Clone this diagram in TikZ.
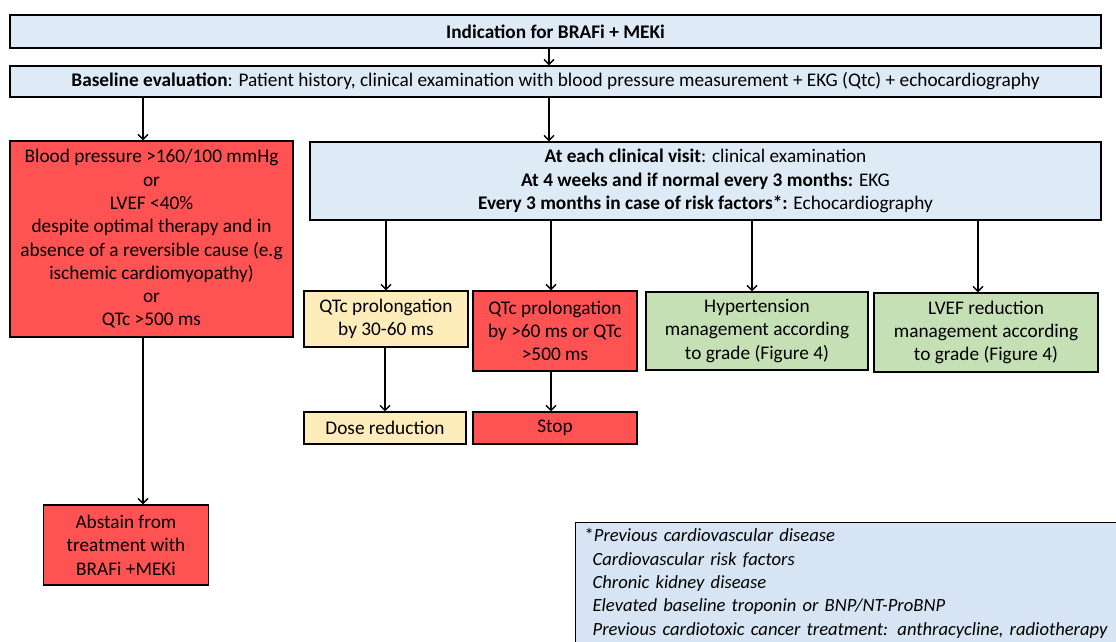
\documentclass[tikz,border=0pt]{standalone}
\usepackage{fontspec}
\setmainfont{Carlito}
\usepackage{xcolor}
\usetikzlibrary{arrows.meta,positioning}
\definecolor{paleblue}{RGB}{222,235,247}
\definecolor{noteblue}{RGB}{214,228,243}
\definecolor{alarmred}{RGB}{255,83,83}
\definecolor{paleyellow}{RGB}{255,236,187}
\definecolor{palegreen}{RGB}{197,224,180}

\begin{document}
\begin{tikzpicture}[
				x = 1pt, y = -1pt, % pixel grid, y downwards
				> = {Straight Barb[length=5pt,width=10pt]}, % arrow head style
				line width = 1.4pt,
				font = \fontsize{19.3}{23.3}\selectfont
			]
			
			\tikzstyle{box}=[
			draw = black,
			line width = 1.3pt,
			align = center,
			inner sep = 2pt
			]
			\tikzstyle{blue box}=[box, fill = paleblue]
			\tikzstyle{red box}=[box, fill = alarmred]
			\tikzstyle{yellow box}=[box, fill = paleyellow]
			\tikzstyle{green box}=[box, fill = palegreen]
			
			\useasboundingbox (0,0) rectangle (1116,642);
			
			\node[blue box, minimum width = 1091pt, minimum height = 33pt] (ind) at (555.5,31.5) {\textbf{Indication for BRAFi + MEKi}};
			\node[blue box, minimum width = 1091pt, minimum height = 31pt] (base) at (555.5,81.5) {\textbf{Baseline evaluation}: Patient history, clinical examination with blood pressure measurement + EKG (Qtc) + echocardiography};
			
			\node[red box, minimum width = 283pt, minimum height = 196pt] (crit) at (151.5,239) {Blood pressure >160/100 mmHg\\ or\\ LVEF <40\%\\ despite optimal therapy and in\\ absence of a reversible cause (e.g\\ ischemic cardiomyopathy)\\ or\\ QTc >500 ms};
			\node[blue box, minimum width = 791pt, minimum height = 78pt] (visit) at (705.5,181) {\textbf{At each clinical visit}: clinical examination\\ \textbf{At 4 weeks and if normal every 3 months:} EKG\\ \textbf{Every 3 months in case of risk factors*:} Echocardiography};
			
			\node[yellow box, minimum width = 164pt, minimum height = 56pt] (qt1) at (386,319) {QTc prolongation\\ by 30-60 ms};
			\node[red box, minimum width = 164pt, minimum height = 80pt] (qt2) at (555,331) {QTc prolongation\\ by >60 ms or QTc\\ >500 ms};
			\node[green box, minimum width = 222pt, minimum height = 78pt] (htn) at (757,331) {Hypertension\\ management according\\ to grade (Figure 4)};
			\node[green box, minimum width = 224pt, minimum height = 79pt] (lvef) at (986,332.5) {LVEF reduction\\ management according\\ to grade (Figure 4)};
			
			\node[yellow box, minimum width = 162pt, minimum height = 32pt] (dose) at (385,428) {Dose reduction};
			\node[red box, minimum width = 164pt, minimum height = 32pt] (stop) at (555,428) {Stop};
			
			\node[red box, minimum width = 165pt, minimum height = 80pt] (abst) at (126,545) {Abstain from\\ treatment with\\ BRAFi +MEKi};
			
			\node[box, fill = noteblue, anchor = north west, align = left, inner xsep = 9pt, inner ysep = 6pt, text width = 560pt, font = \fontsize{18.6}{23.3}\selectfont] (note) at (575,522) {*\textit{Previous cardiovascular disease}\\
				\hspace*{8pt}\textit{Cardiovascular risk factors}\\
				\hspace*{8pt}\textit{Chronic kidney disease}\\
				\hspace*{8pt}\textit{Elevated baseline troponin or BNP/NT-ProBNP}\\
				\hspace*{8pt}\textit{Previous cardiotoxic cancer treatment: anthracycline, radiotherapy}};
			
			% arrow columns
			\coordinate (lcol) at (143,0);
			\coordinate (mcol) at (549,0);
			
			\draw[->] (ind.south -| mcol) -- (base.north -| mcol);
			\draw[->] (base.south -| lcol) -- (crit.north -| lcol);
			\draw[->] (base.south -| mcol) -- (visit.north -| mcol);
			\draw[->] (crit.south -| lcol) -- (abst.north -| lcol);
			
			\draw[->] (visit.south -| qt1.north) -- (qt1.north);
			\draw[->] ([xshift=-4pt]visit.south -| qt2.north) -- ([xshift=-4pt]qt2.north);
			\draw[->] ([xshift=-5pt]visit.south -| htn.north) -- ([xshift=-5pt]htn.north);
			\draw[->] ([xshift=-8pt]visit.south -| lvef.north) -- ([xshift=-8pt]lvef.north);
			
			\draw[->] (qt1.south -| dose.north) -- (dose.north);
			\draw[->] ([xshift=-4pt]qt2.south) -- ([xshift=-4pt]stop.north);
		\end{tikzpicture}
\end{document}
